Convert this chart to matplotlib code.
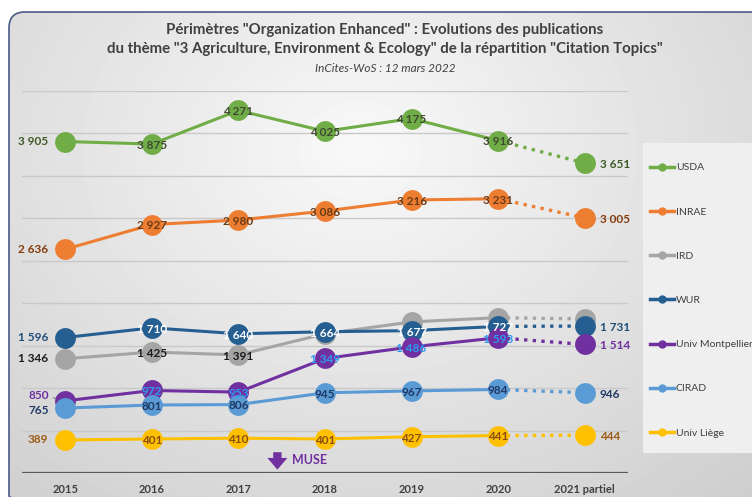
import matplotlib.pyplot as plt
import numpy as np
from matplotlib.lines import Line2D
from matplotlib.patches import FancyBboxPatch, Rectangle

plt.rcParams["font.family"] = ["Lato", "DejaVu Sans"]

years = ["2015", "2016", "2017", "2018", "2019", "2020", "2021 partiel"]

usda = [3905, 3875, 4271, 4025, 4175, 3916, 3651]
inrae = [2636, 2927, 2980, 3086, 3216, 3231, 3005]
ird = [1346, 1425, 1391, 1640, 1780, 1830, 1815]
wur = [1596, 1710, 1640, 1664, 1677, 1727, 1731]
montpellier = [850, 972, 953, 1349, 1486, 1593, 1514]
cirad = [765, 801, 806, 945, 967, 984, 946]
liege = [389, 401, 410, 401, 427, 441, 444]

# name, values, line colour, left/right label colour, inner label colour, labelled points
series = [
    ("USDA", usda, "#70AD47", "#3F5A26", "#3F4A30", 7),
    ("INRAE", inrae, "#ED7D31", "#843C0C", "#6B3A16", 7),
    ("IRD", ird, "#A5A5A5", "#1A1A1A", "#1A1A1A", 3),
    ("WUR", wur, "#255E91", "#1F4E79", "white", 7),
    ("Univ Montpellier", montpellier, "#7030A0", "#7030A0", "#2E9BF0", 7),
    ("CIRAD", cirad, "#5B9BD5", "#1F3864", "#1F3864", 7),
    ("Univ Liège", liege, "#FFC000", "#9C5A14", "#8A4E10", 7),
]
# vertical nudge (points) of the first label, to keep 850 / 765 apart
first_dy = {"Univ Montpellier": 4, "CIRAD": -2}


def fmt(v):
    return f"{v:,}".replace(",", " ")


fig = plt.figure(figsize=(7.52, 4.97), dpi=100)
fig.patch.set_facecolor("white")

# slide background with a soft grey gradient
bg = fig.add_axes([0, 0, 1, 1], zorder=-5)
bg.set_xlim(0, 752)
bg.set_ylim(497, 0)
bg.axis("off")
xx, yy = np.meshgrid(np.linspace(0, 752, 200), np.linspace(0, 497, 140))
d = np.sqrt(((xx - 360) / 520) ** 2 + ((yy - 150) / 420) ** 2)
grad = np.clip(0.975 - 0.15 * d, 0.80, 0.975)
im = bg.imshow(grad, cmap="gray", vmin=0, vmax=1, extent=(0, 752, 497, 0),
               aspect="auto", interpolation="bicubic")
frame = FancyBboxPatch((9, 12), 770, 500, boxstyle="round,pad=0,rounding_size=16",
                       facecolor="none", edgecolor="#4A5A86", lw=1.2,
                       transform=bg.transData)
bg.add_patch(frame)
im.set_clip_path(frame)

# legend panel
bg.add_patch(Rectangle((643, 143), 115, 310, facecolor="#EFEFEF", edgecolor="none"))

ax = fig.add_axes([22 / 752, 1 - 473 / 497, 606 / 752, 382 / 497])
ax.set_facecolor("none")
ax.set_xlim(-0.5, 6.5)
ax.set_ylim(0, 4500)
for s in ax.spines.values():
    s.set_visible(False)
ax.set_yticks([])
for g in range(500, 4501, 500):
    ax.axhline(g, color="#C9C9C9", lw=1, zorder=0)
ax.axhline(0, color="#595959", lw=1.6, zorder=1)

x = np.arange(len(years))
ax.set_xticks(x)
ax.set_xticklabels(years, fontsize=8, fontweight="bold", color="#404040")
ax.tick_params(axis="x", length=0, pad=8)

handles = []
for z, (name, vals, col, edge_col, mid_col, n_lab) in enumerate(series):
    zo = 3 + z
    ax.plot(x[:6], vals[:6], color=col, lw=2.2, zorder=zo, solid_capstyle="round")
    ax.plot(x[5:], vals[5:], color=col, lw=2.4, ls=(0, (1, 1.6)), zorder=zo)
    ax.plot(x, vals, "o", color=col, ms=15, mec="none", zorder=zo)
    handles.append(Line2D([], [], color=col, lw=2.5, marker="o", ms=5, label=name))

    dy = first_dy.get(name, 0)
    ax.annotate(fmt(vals[0]), (x[0], vals[0]), xytext=(-12, dy), textcoords="offset points",
                ha="right", va="center", fontsize=8.5, fontweight="bold", color=edge_col,
                zorder=20)
    for i in range(1, min(n_lab, 6)):
        ax.annotate(fmt(vals[i]), (x[i], vals[i]), xytext=(0, -1), textcoords="offset points",
                    ha="center", va="center", fontsize=8.5, fontweight="bold", color=mid_col,
                    zorder=20)
    if n_lab == 7:
        ax.annotate(fmt(vals[6]), (x[6], vals[6]), xytext=(11, -1), textcoords="offset points",
                    ha="left", va="center", fontsize=8.5, fontweight="bold", color=edge_col,
                    zorder=20)

# small leader from the 850 label to its point
ax.annotate("", xy=(x[0] - 0.06, montpellier[0] + 20), xytext=(x[0] - 0.14, montpellier[0] + 35),
            arrowprops=dict(arrowstyle="-", color="#7F7F7F", lw=0.8, shrinkA=0, shrinkB=0))

# MUSE marker
ax.annotate("", xy=(2.45, 40), xytext=(2.45, 245),
            arrowprops=dict(arrowstyle="simple,head_width=1.2,head_length=0.7,tail_width=0.5",
                            color="#7030A0", lw=0, shrinkA=0, shrinkB=0, mutation_scale=12))
ax.text(2.62, 150, "MUSE", color="#7030A0", fontsize=9, fontweight="bold", va="center")

fig.legend(handles=handles, loc="upper left", bbox_to_anchor=(645 / 752, 1 - 158 / 497),
           frameon=False, fontsize=7.5, labelspacing=3.35, handlelength=2.3,
           handletextpad=0.15, borderpad=0, labelcolor="#404040")

fig.text(385 / 752, 1 - 30 / 497,
         'Périmètres "Organization Enhanced" : Evolutions des publications',
         ha="center", va="center", fontsize=10.8, fontweight="bold", color="#404040")
fig.text(385 / 752, 1 - 49 / 497,
         'du thème "3 Agriculture, Environment & Ecology" de la répartition "Citation Topics"',
         ha="center", va="center", fontsize=10.8, fontweight="bold", color="#404040")
fig.text(385 / 752, 1 - 68 / 497, "InCites-WoS : 12 mars 2022", ha="center", va="center",
         fontsize=8.5, style="italic", color="#404040")

fig.savefig("out.png", dpi=100)
